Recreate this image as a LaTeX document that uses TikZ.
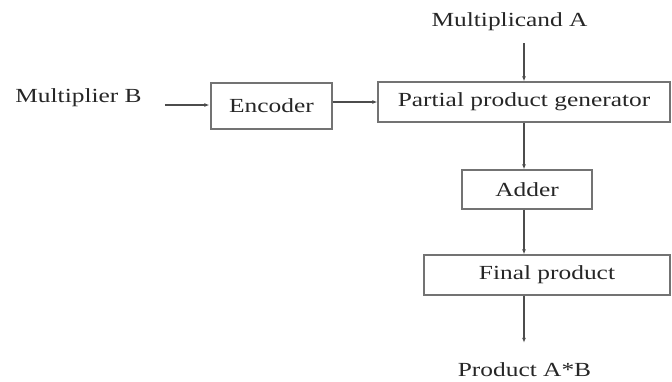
\documentclass[tikz,border=0pt]{standalone}
\usepackage{fontspec}
\setmainfont{Liberation Serif}[FakeStretch=1.27]
\usepackage{tikz}
\usetikzlibrary{arrows.meta}

\begin{document}
\begin{tikzpicture}[x=1pt,y=-1pt,
    box/.style={draw=black!55,line width=1.3pt,inner sep=0pt},
    lbl/.style={inner sep=0pt},
    arr/.style={draw=black!70,line width=1.1pt,-{Latex[length=5pt,width=4pt]}},
    every node/.style={font=\fontsize{20}{23}\selectfont,text=black!85}]
                \useasboundingbox (0,0) rectangle (672,381);
                \node [lbl] (mulB) at (78.5,98) {Multiplier B};
                \node [lbl] (mulA) at (509.5,22) {Multiplicand A};
                \node [box, minimum width=121pt, minimum height=46pt] (enc) at (271.5,106) {Encoder};
                \node [box, minimum width=292pt, minimum height=40pt] (ppg) at (524,102) {Partial product generator};
                \node [box, minimum width=130pt, minimum height=39pt] (add) at (527,189.5) {Adder};
                \node [box, minimum width=246pt, minimum height=40pt] (fin) at (547,275) {Final product};
                \node [lbl] (prod) at (524.5,370) {Product A*B};
                \draw [arr, shorten <=23pt, shorten >=1pt] (mulB.east |- 0,105) -- (enc.west |- 0,105);
                \draw [arr] (enc.east |- ppg.west) -- (ppg.west);
                \draw [arr, shorten <=12pt] (ppg.north |- mulA.south) -- (ppg.north);
                \draw [arr] (ppg.south) -- (ppg.south |- add.north);
                \draw [arr] (ppg.south |- add.south) -- (ppg.south |- fin.north);
                \draw [arr, shorten >=20pt] (ppg.south |- fin.south) -- (ppg.south |- prod.north);
            \end{tikzpicture}
\end{document}
